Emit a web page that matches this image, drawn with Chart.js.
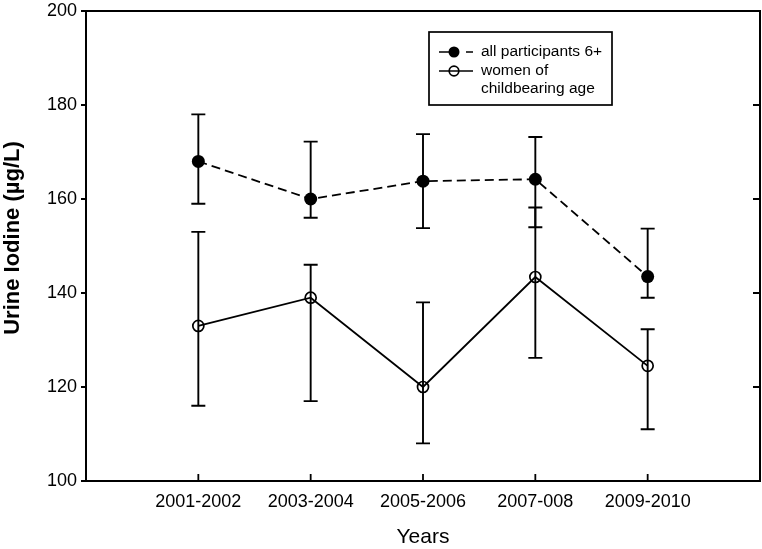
<!DOCTYPE html>
<html>
<head>
<meta charset="utf-8">
<script src="https://cdn.jsdelivr.net/npm/chart.js@4/dist/chart.umd.min.js"></script>
<style>
  html, body { margin: 0; padding: 0; background: #fff; }
  #wrap { width: 762px; height: 549px; }
</style>
</head>
<body>
<div id="wrap"><canvas id="chart" width="762" height="549"></canvas></div>
<script>
// survey cycles
const years = ['2001-2002', '2003-2004', '2005-2006', '2007-008', '2009-2010'];

// all participants 6+ (median + bars)
const allMid = [168, 160, 163.8, 164.2, 143.5];
const allLow = [159, 156, 153.8, 154, 139];
const allHigh = [178, 172.2, 173.8, 173.2, 153.7];

// women of childbearing age
const womenMid = [133, 139, 120, 143.4, 124.5];
const womenLow = [116, 117, 108, 126.2, 111];
const womenHigh = [153, 146, 138, 158.2, 132.3];

const yTicks = [100, 120, 140, 160, 180, 200];

const FONT = '"Liberation Sans", Arial, Helvetica, sans-serif';

function toPoints(values) {
    return values.map((v, i) => ({ x: i + 1, y: v }));
}

const errorSets = [
    { low: allLow, high: allHigh },
    { low: womenLow, high: womenHigh }
];

// frame, ticks, error bars, legend
const framePlugin = {
    id: 'frame',
    beforeDatasetsDraw(chart) {
        const ctx = chart.ctx;
        const xs = chart.scales.x, ys = chart.scales.y;
        ctx.save();
        ctx.strokeStyle = '#000';
        ctx.lineWidth = 1.9;
        errorSets.forEach(s => {
            s.low.forEach((lo, i) => {
                const px = xs.getPixelForValue(i + 1);
                const top = ys.getPixelForValue(s.high[i]);
                const bot = ys.getPixelForValue(lo);
                ctx.beginPath();
                ctx.moveTo(px, top); ctx.lineTo(px, bot);
                ctx.moveTo(px - 7, top); ctx.lineTo(px + 7, top);
                ctx.moveTo(px - 7, bot); ctx.lineTo(px + 7, bot);
                ctx.stroke();
            });
        });
        ctx.restore();
    },
    afterDraw(chart) {
        const ctx = chart.ctx;
        const a = chart.chartArea;
        const xs = chart.scales.x, ys = chart.scales.y;
        ctx.save();
        ctx.strokeStyle = '#000';
        ctx.lineWidth = 2;
        ctx.strokeRect(a.left, a.top, a.right - a.left, a.bottom - a.top);

        ctx.lineWidth = 1.8;
        ctx.beginPath();
        yTicks.forEach(v => {
            const py = ys.getPixelForValue(v);
            ctx.moveTo(a.left - 5, py); ctx.lineTo(a.left, py);
            ctx.moveTo(a.right - 7, py); ctx.lineTo(a.right, py);
        });
        years.forEach((_, i) => {
            const px = xs.getPixelForValue(i + 1);
            ctx.moveTo(px, a.bottom); ctx.lineTo(px, a.bottom - 7);
        });
        ctx.stroke();

        // y title, a bit above the axis middle like the original
        ctx.save();
        ctx.translate(13, (a.top + a.bottom) / 2 - 8);
        ctx.rotate(-Math.PI / 2);
        ctx.font = 'bold 22px ' + FONT;
        ctx.fillStyle = '#000';
        ctx.textAlign = 'center';
        ctx.textBaseline = 'middle';
        ctx.fillText('Urine Iodine (µg/L)', 0, 0);
        ctx.restore();

        // legend box
        const lx = a.left + 343, ly = a.top + 21;
        ctx.lineWidth = 1.7;
        ctx.strokeRect(lx, ly, 183, 73);

        // dashed sample: dash, dot, dash
        ctx.beginPath();
        ctx.moveTo(lx + 10, ly + 20); ctx.lineTo(lx + 22, ly + 20);
        ctx.moveTo(lx + 37, ly + 20); ctx.lineTo(lx + 44, ly + 20);
        ctx.stroke();
        ctx.beginPath();
        ctx.arc(lx + 25, ly + 20, 5.5, 0, Math.PI * 2);
        ctx.fillStyle = '#000';
        ctx.fill();

        ctx.beginPath();
        ctx.moveTo(lx + 10, ly + 39); ctx.lineTo(lx + 44, ly + 39);
        ctx.stroke();
        ctx.beginPath();
        ctx.arc(lx + 25, ly + 39, 4.8, 0, Math.PI * 2);
        ctx.stroke();

        ctx.fillStyle = '#000';
        ctx.font = '15.5px ' + FONT;
        ctx.textBaseline = 'middle';
        ctx.textAlign = 'left';
        ctx.fillText('all participants 6+', lx + 52, ly + 20);
        ctx.fillText('women of', lx + 52, ly + 39);
        ctx.fillText('childbearing age', lx + 52, ly + 57);
        ctx.restore();
    }
};

new Chart(document.getElementById('chart'), {
    type: 'line',
    data: {
        datasets: [
            {
                label: 'all participants 6+',
                data: toPoints(allMid),
                borderColor: '#000',
                backgroundColor: '#000',
                borderWidth: 1.8,
                borderDash: [9, 5],
                pointRadius: 6.5,
                pointBorderWidth: 0,
                pointBackgroundColor: '#000',
                tension: 0
            },
            {
                label: 'women of childbearing age',
                data: toPoints(womenMid),
                borderColor: '#000',
                backgroundColor: 'rgba(0,0,0,0)',
                borderWidth: 1.8,
                pointRadius: 5.5,
                pointBorderWidth: 1.7,
                pointBorderColor: '#000',
                pointBackgroundColor: 'rgba(0,0,0,0)',
                tension: 0
            }
        ]
    },
    options: {
        responsive: false,
        animation: false,
        layout: { autoPadding: false, padding: { top: 11, right: 2, left: 0, bottom: 0 } },
        plugins: {
            legend: { display: false },
            tooltip: { enabled: false }
        },
        scales: {
            x: {
                type: 'linear',
                min: 0,
                max: 6,
                afterBuildTicks: s => { s.ticks = years.map((_, i) => ({ value: i + 1 })); },
                afterFit: s => { s.height = 68; s.paddingLeft = 0; s.paddingRight = 0; },
                grid: { display: false, drawTicks: false },
                border: { display: false },
                ticks: {
                    autoSkip: false,
                    maxRotation: 0,
                    padding: 10,
                    color: '#000',
                    font: { family: FONT, size: 18 },
                    callback: v => years[v - 1] || ''
                },
                title: {
                    display: true,
                    text: 'Years',
                    color: '#000',
                    font: { family: FONT, size: 21, lineHeight: 1.15 },
                    padding: { top: 0, bottom: 0 }
                }
            },
            y: {
                min: 100,
                max: 200,
                afterBuildTicks: s => { s.ticks = yTicks.map(v => ({ value: v })); },
                afterFit: s => { s.width = 86; s.paddingTop = 0; s.paddingBottom = 0; },
                grid: { display: false, drawTicks: false },
                border: { display: false },
                ticks: {
                    padding: 9,
                    color: '#000',
                    font: { family: FONT, size: 18 }
                },
                title: { display: false }
            }
        }
    },
    plugins: [framePlugin]
});
</script>
</body>
</html>
